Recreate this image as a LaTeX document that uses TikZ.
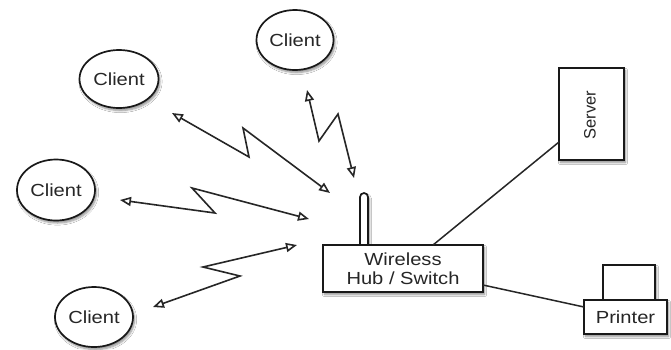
\documentclass[tikz,border=0pt]{standalone}
\usepackage{fontspec}
\setmainfont{Liberation Sans}
\usetikzlibrary{shapes.geometric,arrows.meta,shadows.blur}
\newcommand{\wtxt}[1]{\scalebox{1.15}[1]{#1}}
\begin{document}
\begin{tikzpicture}[x=1pt,y=-1pt,
  ink/.style={draw=black!90, line width=1.7pt},
  shad/.style={blur shadow={shadow blur steps=6, shadow xshift=1.5pt, shadow yshift=-2.5pt, shadow opacity=45}},
  client/.style={ellipse, ink, fill=white, shad, inner sep=0pt, text=black!85,
     font=\fontsize{17.5}{20}\selectfont},
  boxnode/.style={rectangle, ink, fill=white, shad, inner sep=0pt, text=black!85,
     font=\fontsize{17.5}{20}\selectfont},
  zig/.style={draw=black!85, line width=1.6pt, line join=miter,
     {Triangle[open, length=11pt, width=9pt]}-{Triangle[open, length=11pt, width=9pt]}},
  wire/.style={draw=black!85, line width=1.5pt}
]
\useasboundingbox (0,0) rectangle (671,349);
\fill[white] (0,0) rectangle (671,349);

% clients
\node[client, minimum width=79pt, minimum height=58pt] (c1) at (119,79) {\wtxt{Client}};
\node[client, minimum width=77pt, minimum height=60pt] (c2) at (295,40) {\wtxt{Client}};
\node[client, minimum width=78pt, minimum height=61pt] (c3) at (56,190) {\wtxt{Client}};
\node[client, minimum width=78pt, minimum height=60pt] (c4) at (94,317) {\wtxt{Client}};

% antenna
\draw[ink, fill=white, shad, rounded corners=4pt] (360,246) -- (360,193) -- (368,193) -- (368,246);

% hub
\node[boxnode, minimum width=160pt, minimum height=47pt, align=center] (hub) at (403,268.5)
  {\wtxt{Wireless}\\[-1pt]\wtxt{Hub / Switch}};

% server
\node[boxnode, minimum width=65pt, minimum height=92pt] (server) at (591.5,114) {};
\node[rotate=90, text=black!85, font=\fontsize{16.5}{18}\selectfont] (servertxt) at (590,115) {Server};

% printer
\node[boxnode, minimum width=52pt, minimum height=36pt] (tray) at (629,283) {};
\node[boxnode, minimum width=83pt, minimum height=34pt] (printer) at (625.5,317) {\wtxt{Printer}};

% wired links
\coordinate (hubtop) at (433,245);
\coordinate (srvl) at (559,142);
\coordinate (hubr) at (483,285);
\coordinate (prl) at (584,307);
\draw[wire] (hubtop) -- (srvl);
\draw[wire] (hubr) -- (prl);

% wireless links
\coordinate (a1s) at (172,113); \coordinate (a1e) at (330,193);
\coordinate (a2s) at (307,90);  \coordinate (a2e) at (354,178);
\coordinate (a3s) at (120,200); \coordinate (a3e) at (309,219);
\coordinate (a4s) at (153,307); \coordinate (a4e) at (297,245);
\draw[zig] (a1s) -- (249,157) -- (243,128) -- (a1e);
\draw[zig] (a2s) -- (319,141) -- (338,114) -- (a2e);
\draw[zig] (a3s) -- (215,213) -- (192,188) -- (a3e);
\draw[zig] (a4s) -- (240,276) -- (203,267) -- (a4e);
\end{tikzpicture}
\end{document}
